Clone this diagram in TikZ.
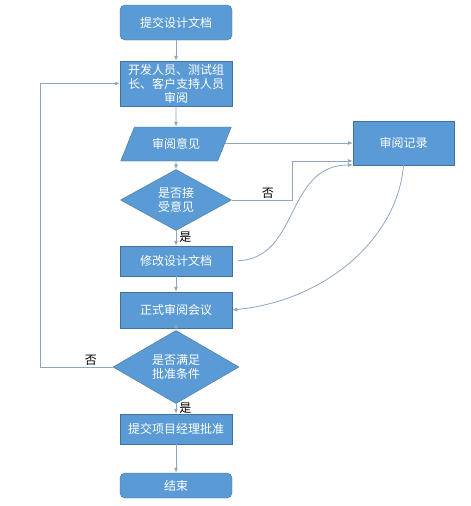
\documentclass[tikz,border=0pt]{standalone}
\usepackage{fontspec}
\setmainfont{Noto Sans CJK SC}
\usepackage{tikz}
\usetikzlibrary{arrows.meta, positioning, calc, shapes.geometric}
\definecolor{boxblue}{HTML}{5B9BD5}
\definecolor{boxline}{HTML}{41719C}
\definecolor{linkgray}{HTML}{8CA6C4}

\begin{document}
\begin{tikzpicture}[
    x=1pt, y=-1pt,
    every node/.style={font=\fontsize{12}{14}\selectfont, align=center, inner sep=1pt},
    box/.style={draw=boxline, fill=boxblue, text=white, rectangle, minimum width=112pt},
    terminal/.style={box, rounded corners=5pt},
    data/.style={draw=boxline, fill=boxblue, text=white, trapezium, trapezium left angle=58, trapezium right angle=122, trapezium stretches=true, minimum width=111pt, minimum height=34pt},
    decision/.style={draw=boxline, fill=boxblue, text=white, diamond, inner sep=0pt},
    arrow/.style={-{Latex[length=5pt, width=4pt]}, draw=linkgray, line width=0.8pt},
    tag/.style={font=\fontsize{12}{14}\selectfont, text=black}
]
\useasboundingbox (0,0) rectangle (471,506);
\node (submit) [terminal, minimum height=35pt] at (176,22.5) {提交设计文档};
\node (review) [box, minimum height=45pt] at (176,83.5) {开发人员、测试组\\长、客户支持人员\\审阅};
\node (opinion) [data] at (176,144) {审阅意见};
\node (accept) [decision, minimum width=111pt, minimum height=46pt] at (176,200) {是否接\\受意见};
\node (modify) [box, minimum height=30pt] at (176,261) {修改设计文档};
\node (meeting) [box, minimum height=36pt] at (176,310) {正式审阅会议};
\node (approve) [decision, minimum width=126pt, minimum height=48pt] at (176,367) {是否满足\\批准条件};
\node (manager) [box, minimum height=30pt] at (176,429) {提交项目经理批准};
\node (finish) [terminal, minimum height=25pt] at (176,485.5) {结束};
\node (record) [box, minimum width=101pt, minimum height=44pt] at (403.5,143) {审阅记录};
\coordinate (recin) at (record.west |- 0,161);
\coordinate (recin2) at (record.west |- 0,165);
% main flow
\draw[arrow] (submit) -- (review);
\draw[arrow] (review) -- (opinion);
\draw[arrow] (opinion) -- (accept);
\draw[arrow] (accept) -- node[tag, right=2pt, pos=0.45] {是} (modify);
\draw[arrow] (modify) -- (meeting);
\draw[arrow] (meeting) -- (approve);
\draw[arrow] (approve) -- node[tag, right=2pt, pos=0.45] {是} (manager);
\draw[arrow] (manager) -- (finish);
% review record links
\draw[arrow] (opinion.east |- record.west) -- (record.west);
\draw[arrow] (accept.east) -- node[tag, above, pos=0.6] {否} (292,200) |- (recin);
\draw[arrow, shorten <=6pt] (modify.east) .. controls (300,258) and (285,165) .. (recin2);
\draw[arrow] (record.south) .. controls (398,235) and (330,300) .. (meeting.east);
% loop back
\draw[arrow] (approve.west) -- node[tag, above, pos=0.3] {否} (40,367) |- (review.west);
\end{tikzpicture}
\end{document}
